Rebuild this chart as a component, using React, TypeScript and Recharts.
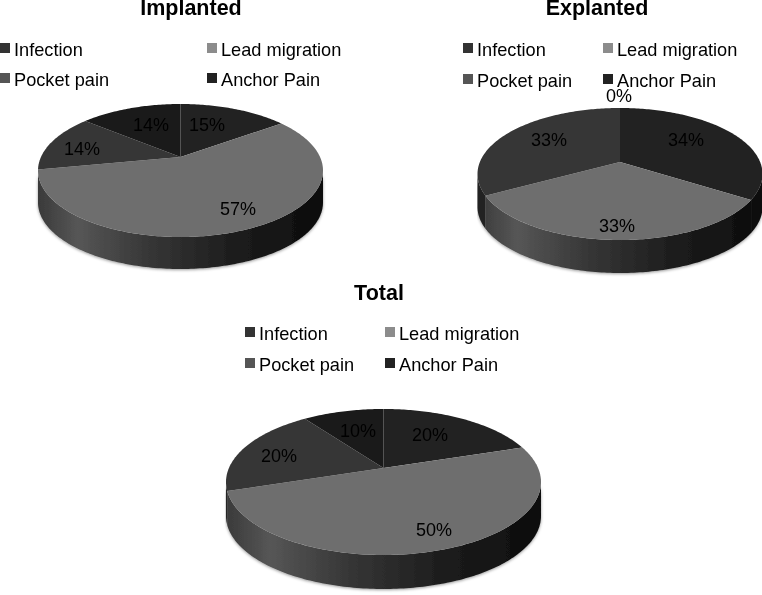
import { Pie, PieChart } from "recharts";

const categories = ["Infection", "Lead migration", "Pocket pain", "Anchor Pain"];
const implantedValues = [15, 57, 14, 14];
const explantedValues = [34, 33, 33, 0];
const totalValues = [20, 50, 20, 10];

const sliceColors = ["#222222", "#6e6e6e", "#363636", "#1a1a1a"];
const rimColors = ["#0b0b0b", "url(#RIM)", "#242424", "#0b0b0b"];
const legendColors = ["#333333", "#8c8c8c", "#555555", "#222222"];

const FONT = "'Liberation Sans', Arial, sans-serif";

const toRows = (values: number[]) =>
    categories.map((name, i) => ({ name, value: values[i], slice: i }));

interface Panel {
    id: string;
    title: string;
    titleX: number;
    titleY: number;
    values: number[];
    // apex of the slices and how the disc is tilted around it
    cx: number;
    cy: number;
    rx: number;
    up: number;
    down: number;
    depth: number;
    legendX: [number, number];
    legendY: [number, number];
    labels: [number, number][];
}

const panels: Panel[] = [
    {
        id: "implanted",
        title: "Implanted",
        titleX: 191,
        titleY: 15,
        values: implantedValues,
        cx: 180.5,
        cy: 157,
        rx: 142.5,
        up: 53,
        down: 80,
        depth: 32,
        legendX: [0, 207],
        legendY: [56, 86],
        labels: [
            [207, 125],
            [238, 209],
            [82, 149],
            [151, 125],
        ],
    },
    {
        id: "explanted",
        title: "Explanted",
        titleX: 597,
        titleY: 15,
        values: explantedValues,
        cx: 620,
        cy: 162,
        rx: 142.5,
        up: 54,
        down: 78,
        depth: 33,
        legendX: [463, 603],
        legendY: [56, 87],
        labels: [
            [686, 140],
            [617, 226],
            [549, 140],
            [619, 96],
        ],
    },
    {
        id: "total",
        title: "Total",
        titleX: 379,
        titleY: 300,
        values: totalValues,
        cx: 383.5,
        cy: 468,
        rx: 157.5,
        up: 59,
        down: 87,
        depth: 34,
        legendX: [245, 385],
        legendY: [340, 371],
        labels: [
            [430, 435],
            [434, 530],
            [279, 456],
            [358, 431],
        ],
    },
];

// recharts angle -> point on the tilted disc
const project = (p: Panel, angle: number): [number, number] => {
    const k = (p.down - p.up) / (p.down + p.up);
    const a = p.up * (1 + k);
    const c = p.rx * Math.sqrt(1 - k * k);
    const rad = (angle * Math.PI) / 180;
    const X = Math.cos(rad);
    const Y = Math.sin(rad);
    const d = 1 + k * Y;
    return [p.cx + (c * X) / d, p.cy - (a * Y) / d];
};

const arcPoints = (p: Panel, start: number, end: number) => {
    const steps = Math.max(1, Math.ceil(Math.abs(end - start)));
    const pts: [number, number][] = [];
    for (let i = 0; i <= steps; i++) {
        pts.push(project(p, start + ((end - start) * i) / steps));
    }
    return pts;
};

const toPath = (pts: [number, number][]) =>
    pts.map((q, i) => `${i ? "L" : "M"}${q[0].toFixed(2)},${q[1].toFixed(2)}`).join("") + "Z";

const topShape = (p: Panel) => (props: any) => {
    const pts = arcPoints(p, props.startAngle, props.endAngle);
    return <path d={toPath([[p.cx, p.cy], ...pts])} fill={sliceColors[props.slice ?? props.index]} />;
};

const rimShape = (p: Panel) => (props: any) => {
    const midY = p.cy + (p.down - p.up) / 2;
    const pts = arcPoints(p, props.startAngle, props.endAngle).filter((q) => q[1] >= midY);
    if (pts.length < 2) return <g />;
    const lower = pts.map((q) => [q[0], q[1] + p.depth] as [number, number]).reverse();
    const fill = rimColors[props.slice ?? props.index].replace("RIM", `rim-${p.id}`);
    return <path d={toPath([...pts, ...lower])} fill={fill} filter="url(#rimShadow)" />;
};

const valueLabel = (p: Panel) => (props: any) => {
    const [x, y] = p.labels[props.index];
    return (
        <text
            key={props.index}
            x={x}
            y={y}
            dy="0.35em"
            textAnchor="middle"
            fontFamily={FONT}
            fontSize={18}
            fill="#000"
        >
            {`${props.value}%`}
        </text>
    );
};

const App = () => {
    return (
        <div style={{ position: "absolute", left: 0, top: 0, width: 762, height: 595, background: "#fff" }}>
            <PieChart
                width={762}
                height={595}
                margin={{ top: 0, right: 0, bottom: 0, left: 0 }}
                style={{ filter: "blur(0.3px)" }}
            >
                <defs>
                    <filter id="rimShadow" x="-5%" y="-10%" width="110%" height="130%">
                        <feDropShadow dx="0" dy="1" stdDeviation="1.5" floodColor="#000" floodOpacity="0.4" />
                    </filter>
                    {panels.map((p) => (
                        <linearGradient
                            key={p.id}
                            id={`rim-${p.id}`}
                            gradientUnits="userSpaceOnUse"
                            x1={p.cx - p.rx}
                            x2={p.cx + p.rx}
                            y1={0}
                            y2={0}
                        >
                            <stop offset="0" stopColor="#3a3a3a" />
                            <stop offset="0.14" stopColor="#565656" />
                            <stop offset="0.4" stopColor="#353535" />
                            <stop offset="0.7" stopColor="#1c1c1c" />
                            <stop offset="1" stopColor="#0c0c0c" />
                        </linearGradient>
                    ))}
                </defs>

                {panels.map((p) => (
                    <Pie
                        key={`${p.id}-rim`}
                        data={toRows(p.values)}
                        dataKey="value"
                        nameKey="name"
                        cx={p.cx}
                        cy={p.cy}
                        outerRadius={p.rx}
                        startAngle={90}
                        endAngle={-270}
                        stroke="none"
                        shape={rimShape(p)}
                        isAnimationActive={false}
                    />
                ))}
                {panels.map((p) => (
                    <Pie
                        key={`${p.id}-top`}
                        data={toRows(p.values)}
                        dataKey="value"
                        nameKey="name"
                        cx={p.cx}
                        cy={p.cy}
                        outerRadius={p.rx}
                        startAngle={90}
                        endAngle={-270}
                        stroke="none"
                        shape={topShape(p)}
                        label={valueLabel(p)}
                        labelLine={false}
                        isAnimationActive={false}
                    />
                ))}

                {panels.map((p) => (
                    <g key={`${p.id}-text`} fontFamily={FONT}>
                        <text x={p.titleX} y={p.titleY} textAnchor="middle" fontWeight="bold" fontSize={21.5} fill="#000">
                            {p.title}
                        </text>
                        {categories.map((name, i) => {
                            const x = p.legendX[i % 2];
                            const y = p.legendY[i < 2 ? 0 : 1];
                            return (
                                <g key={name}>
                                    <rect x={x} y={y - 13} width={10} height={10} fill={legendColors[i]} />
                                    <text x={x + 14} y={y} fontSize={18.2} fill="#000">
                                        {name}
                                    </text>
                                </g>
                            );
                        })}
                    </g>
                ))}
            </PieChart>
        </div>
    );
};

export default App;
